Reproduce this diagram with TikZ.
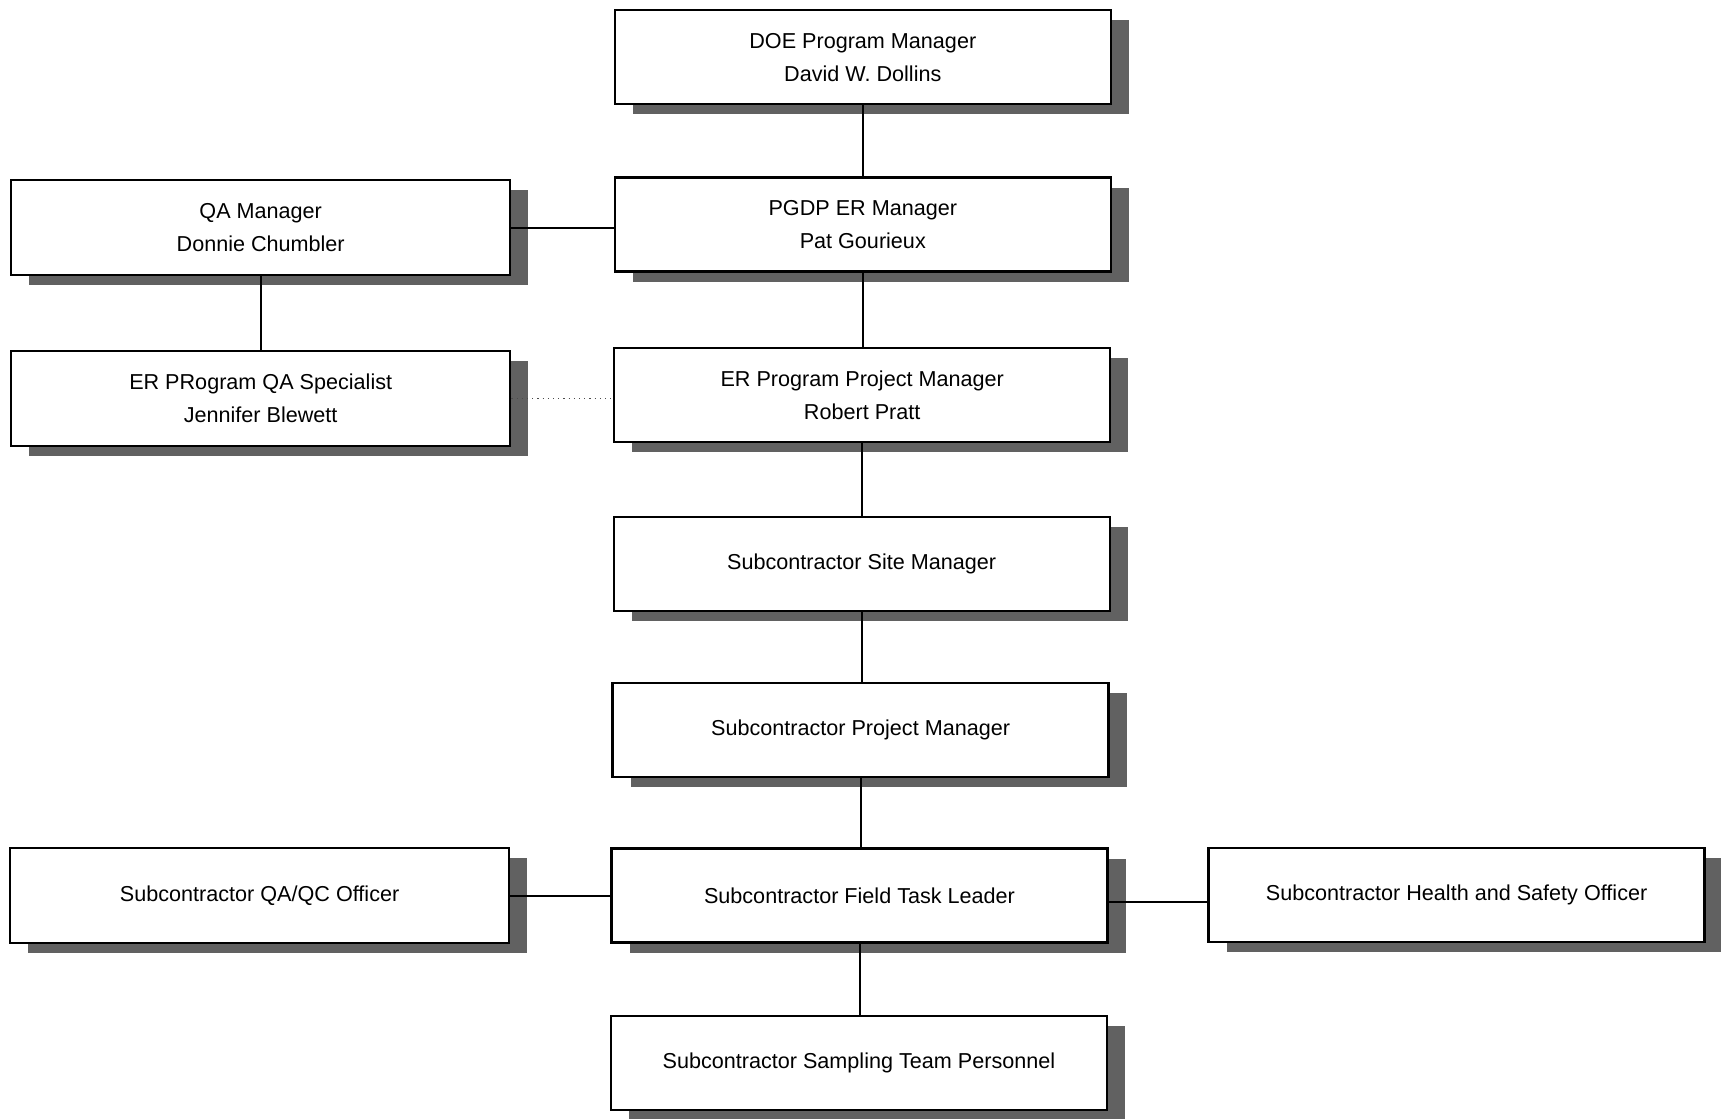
\documentclass[tikz,border=0pt]{standalone}
\usepackage{fontspec}
\setmainfont{Liberation Sans}
\usetikzlibrary{shadows}
\newcommand\orgfont{\fontsize{10.8pt}{16.5pt}\selectfont}
\begin{document}
\begin{tikzpicture}[x=0.5pt,y=-0.5pt,
  orgbox/.style={draw, line width=1.2pt, fill=white, align=center,
    minimum width=248pt, minimum height=47pt, inner sep=0pt, font=\orgfont,
    drop shadow={shadow xshift=9pt, shadow yshift=-5pt, fill=black!62, opacity=1}},
  sidebox/.style={orgbox, minimum width=249.5pt, minimum height=47.5pt},
  link/.style={line width=1pt},
  weaklink/.style={line width=0.6pt, dotted, black!70}]
\useasboundingbox (0,0) rectangle (1721,1119);

% main chain of command
\node[orgbox] (doe)   at (862.8,57.1)  {DOE Program Manager\\David W. Dollins};
\node[orgbox] (pgdp)  at (862.8,224.5) {PGDP ER Manager\\Pat Gourieux};
\node[orgbox] (erppm) at (862.2,395.1) {ER Program Project Manager\\Robert Pratt};
\node[orgbox] (site)  at (861.7,563.7) {Subcontractor Site Manager};
\node[orgbox] (proj)  at (860.6,729.9) {Subcontractor Project Manager};
\node[orgbox] (field) at (859.5,895.6) {Subcontractor Field Task Leader};
\node[orgbox] (samp)  at (858.9,1063)  {Subcontractor Sampling Team Personnel};

% quality assurance and safety roles
\node[sidebox] (qa)   at (260.7,227.7) {QA Manager\\Donnie Chumbler};
\node[sidebox] (spec) at (260.7,398.4) {ER PRogram QA Specialist\\Jennifer Blewett};
\node[sidebox] (qaqc) at (259.6,895.6) {Subcontractor QA/QC Officer};
\node[orgbox]  (hs)   at (1456.6,895)  {Subcontractor Health and Safety Officer};

% reporting lines (kept vertical / horizontal)
\draw[link] (doe.south) -- (doe.south |- pgdp.north);
\draw[link] (pgdp.south) -- (pgdp.south |- erppm.north);
\draw[link] (erppm.south) -- (erppm.south |- site.north);
\draw[link] (site.south) -- (site.south |- proj.north);
\draw[link] (proj.south) -- (proj.south |- field.north);
\draw[link] (field.south) -- (field.south |- samp.north);
\draw[link] (qa.east) -- (qa.east -| pgdp.west);
\draw[link] (qa.south) -- (qa.south |- spec.north);
\draw[weaklink] (spec.east) -- (spec.east -| erppm.west);
\draw[link] (qaqc.east) -- (qaqc.east -| field.west);
\coordinate (fieldr) at ([yshift=-3.3pt]field.east);
\draw[link] (fieldr) -- (fieldr -| hs.west);
\end{tikzpicture}
\end{document}
